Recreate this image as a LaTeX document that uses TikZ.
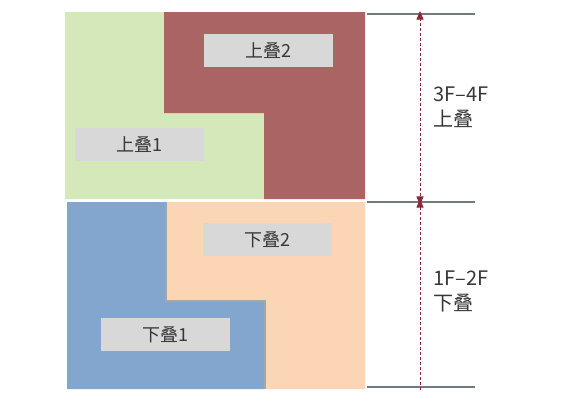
\documentclass[tikz,border=0pt]{standalone}
\usepackage{fontspec}
\setmainfont{Noto Sans CJK SC}
\usepackage{tikz}
\usetikzlibrary{arrows}
\definecolor{upA}{RGB}{213,232,185}
\definecolor{upB}{RGB}{169,100,99}
\definecolor{dnA}{RGB}{131,166,207}
\definecolor{dnB}{RGB}{252,213,181}
\definecolor{tag}{RGB}{216,216,216}
\definecolor{rule}{RGB}{112,122,128}
\definecolor{dim}{RGB}{140,40,55}
\definecolor{ink}{RGB}{55,55,55}

\begin{document}
\begin{tikzpicture}[x=1pt,y=-1pt,
    tagbox/.style={fill=tag, minimum width=129pt, minimum height=33pt, inner sep=0pt, text=ink, font=\fontsize{18}{20}\selectfont},
    sidetext/.style={anchor=west, align=left, text=ink, font=\fontsize{20}{25}\selectfont},
    floorline/.style={draw=rule, line width=1.3pt},
    dimline/.style={draw=dim, line width=1pt, dash pattern=on 3pt off 2pt, >=latex, arrows={-triangle 45}}]
      \useasboundingbox (0,0) rectangle (573,400);
      % upper unit
      \fill[upA] (65,12) -- (164,12) -- (164,113) -- (264,113) -- (264,199) -- (65,199) -- cycle;
      \fill[upB] (164,12) -- (365,12) -- (365,199) -- (264,199) -- (264,113) -- (164,113) -- cycle;
      % lower unit
      \fill[dnB] (165,202) -- (365,202) -- (365,389) -- (266,389) -- (266,302) -- (165,302) -- cycle;
      \fill[dnA] (67,202) -- (165,202) -- (165,302) -- (264,302) -- (264,389) -- (67,389) -- cycle;
      \draw[black!35, line width=1.5pt] (166,202) -- (166,301) -- (265,301) -- (265,389);
      \node (u2) at (268.5,50.5) [tagbox] {上叠2};
      \node (u1) at (139,144.5) [tagbox] {上叠1};
      \node (d2) at (267.5,239.5) [tagbox] {下叠2};
      \node (d1) at (165.5,334.5) [tagbox] {下叠1};
      % floor marks
      \foreach \n/\y in {a/14,b/202,c/387} {
        \coordinate (\n0) at (367,\y);
        \coordinate (\n1) at (475,\y);
        \coordinate (\n2) at (420,\y);
        \draw[floorline] (\n0) to (\n1);
      }
      \draw[dimline, arrows={triangle 45-triangle 45}] ([yshift=3pt]a2) to ([yshift=-3pt]b2);
      \draw[dimline] ([yshift=-3pt]c2) to ([yshift=3pt]b2);
      \node (t34) at (430,107) [sidetext] {3F--4F\\上叠};
      \node (t12) at (430,291) [sidetext] {1F--2F\\下叠};
\end{tikzpicture}
\end{document}
